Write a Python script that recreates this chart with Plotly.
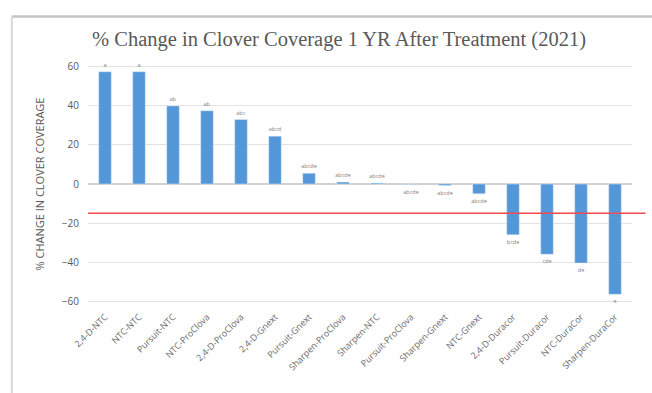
import plotly.graph_objects as go

categories = ["2,4-D-NTC", "NTC-NTC", "Pursuit-NTC", "NTC-ProClova", "2,4-D-ProClova",
              "2,4-D-Gnext", "Pursuit-Gnext", "Sharpen-ProClova", "Sharpen-NTC",
              "Pursuit-ProClova", "Sharpen-Gnext", "NTC-Gnext", "2,4-D-Duracor",
              "Pursuit-Duracor", "NTC-DuraCor", "Sharpen-DuraCor"]
values = [57.5, 57.5, 40, 37.5, 33, 24.5, 5.5, 1, 0.5, -0.3, -0.8, -5, -26, -36, -40.5, -56.5]
letters = ["a", "a", "ab", "ab", "abc", "abcd", "abcde", "abcde", "abcde", "abcde",
           "abcde", "abcde", "bcde", "cde", "de", "e"]
threshold = -15

fig = go.Figure()
fig.add_trace(go.Bar(
    x=categories, y=values, marker_color="#5497d8",
    text=letters, textposition="outside", textfont=dict(size=5.5, color="#7f7f7f"),
    constraintext="none", cliponaxis=False,
))
fig.add_shape(type="line", xref="paper", yref="y", x0=0, x1=1.025, y0=threshold, y1=threshold,
              line=dict(color="#f24a4f", width=1.5))
# outer frame
fig.add_shape(type="line", xref="paper", yref="paper", x0=-0.14, x1=1.1, y0=1.17, y1=1.17,
              line=dict(color="#c4c4c4", width=2.5), layer="above")
fig.add_shape(type="line", xref="paper", yref="paper", x0=-0.14, x1=-0.14, y0=-0.5, y1=1.17,
              line=dict(color="#d9d9d9", width=2), layer="above")

fig.update_layout(
    width=652, height=393,
    margin=dict(l=88, r=20, t=59, b=84),
    paper_bgcolor="white", plot_bgcolor="white",
    bargap=0.63, showlegend=False,
    title=dict(text="% Change in Clover Coverage 1 YR After Treatment (2021)",
               x=0.52, xanchor="center", y=0.9, yanchor="middle",
               font=dict(family="Liberation Serif", size=20.5, color="#595959")),
    font=dict(family="Open Sans", color="#595959"),
)
fig.update_xaxes(tickangle=-45, tickfont=dict(size=9, color="#6a6a6a"), showline=False,
                 ticks="")
fig.update_yaxes(range=[-64, 64], tickvals=[-60, -40, -20, 0, 20, 40, 60],
                 gridcolor="#e3e3e3", zeroline=True, zerolinecolor="#d0d0d0",
                 tickfont=dict(size=10, color="#595959"), ticklabelstandoff=8,
                 title=dict(text="% CHANGE IN CLOVER COVERAGE", font=dict(size=11, color="#595959"),
                            standoff=14))
fig.write_html("out.html")
